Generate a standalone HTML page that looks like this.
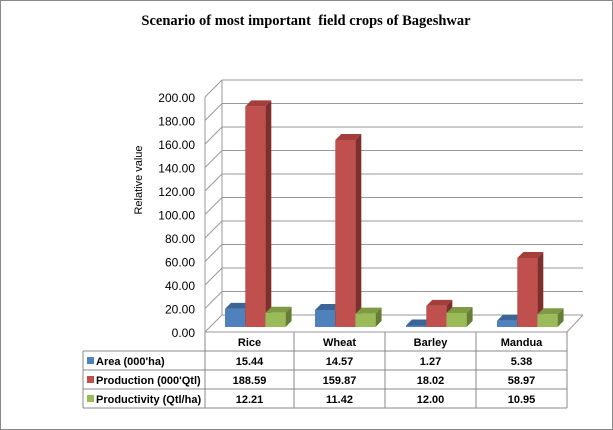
<!DOCTYPE html>
<html><head><meta charset="utf-8"><style>
html,body{margin:0;padding:0;background:#fff}
svg{display:block}
</style></head><body>
<svg id="s" width="613" height="430" xmlns="http://www.w3.org/2000/svg" font-family="Liberation Sans, DejaVu Sans, sans-serif">
<rect x="0.5" y="0.5" width="612" height="429" fill="#fff" stroke="#888"/>
<text x="306" y="25" text-anchor="middle" font-family="Liberation Serif, serif" font-weight="bold" font-size="14.5">Scenario of most important&#160; field crops of Bageshwar</text>
<text transform="translate(142,180) rotate(-90)" text-anchor="middle" font-size="11" fill="#000">Relative value</text>
<g id="grid"></g>
<g id="bars"></g>
<g id="tbl" font-size="11"></g>
</svg>
<script>
const ns="http://www.w3.org/2000/svg";
function el(p,t,a,txt){const e=document.createElementNS(ns,t);for(const k in a)e.setAttribute(k,a[k]);if(txt!=null)e.textContent=txt;p.appendChild(e);return e;}
const g=document.getElementById('grid');
for(let i=0;i<=10;i++){
  const yb=315-i*23.5, yf=yb+17;
  el(g,'line',{x1:205,y1:yf,x2:222,y2:yb,stroke:'#999','stroke-width':1});
  el(g,'line',{x1:222,y1:yb,x2:583,y2:yb,stroke:'#999','stroke-width':1});
  el(g,'text',{x:195,y:yf+5,'text-anchor':'end','font-size':12},(i*20).toFixed(2));
}
el(g,'line',{x1:222,y1:80,x2:222,y2:315,stroke:'#999'});
el(g,'line',{x1:205,y1:97,x2:205,y2:332,stroke:'#999'});
el(g,'line',{x1:205,y1:332,x2:567,y2:332,stroke:'#999'});
el(g,'line',{x1:567,y1:332,x2:583,y2:315,stroke:'#999'});
const b=document.getElementById('bars');
const data=[[15.44,188.59,12.21],[14.57,159.87,11.42],[1.27,18.02,12.00],[5.38,58.97,10.95]];
const cols=[["#4f81bd","#3a6596","#2f5482"],["#c0504d","#a33e3b","#7f2e2c"],["#9bbb59","#7e9a44","#667d36"]];
const starts=[225,315,406,497];
const base=327,sc=1.17,d=6,w=20;
data.forEach((v,ci)=>{
  v.forEach((val,si)=>{
    const x=starts[ci]+si*20.3,h=val*sc,y=base-h;
    const c=cols[si];
    el(b,'polygon',{points:`${x+w},${y} ${x+w+d},${y-d} ${x+w+d},${base-d} ${x+w},${base}`,fill:c[2]});
    el(b,'polygon',{points:`${x},${y} ${x+d},${y-d} ${x+w+d},${y-d} ${x+w},${y}`,fill:c[1]});
    el(b,'rect',{x:x,y:y,width:w,height:h,fill:c[0]});
  });
});
const t=document.getElementById('tbl');
const xs=[205,294,385,476,567];
const ys=[332,351,370,389,408];
[351,370,389,408].forEach(y=>el(t,'line',{x1:83,y1:y,x2:567,y2:y,stroke:'#888'}));
el(t,'line',{x1:83,y1:351,x2:83,y2:408,stroke:'#888'});
xs.forEach(x=>el(t,'line',{x1:x,y1:332,x2:x,y2:408,stroke:'#888'}));
const cats=["Rice","Wheat","Barley","Mandua"];
cats.forEach((c,i)=>el(t,'text',{x:(xs[i]+xs[i+1])/2,y:346,'text-anchor':'middle','font-weight':'bold'},c));
const names=["Area (000'ha)","Production (000'Qtl)","Productivity (Qtl/ha)"];
const vals=[["15.44","14.57","1.27","5.38"],["188.59","159.87","18.02","58.97"],["12.21","11.42","12.00","10.95"]];
names.forEach((n,r)=>{
  const yy=ys[r+1]+14;
  el(t,'rect',{x:87,y:ys[r+1]+6,width:7,height:7,fill:cols[r][0]});
  el(t,'text',{x:96,y:yy,'font-weight':'bold'},n);
  vals[r].forEach((v,i)=>el(t,'text',{x:(xs[i]+xs[i+1])/2,y:yy,'text-anchor':'middle','font-weight':'bold'},v));
});
</script>
</body></html>
